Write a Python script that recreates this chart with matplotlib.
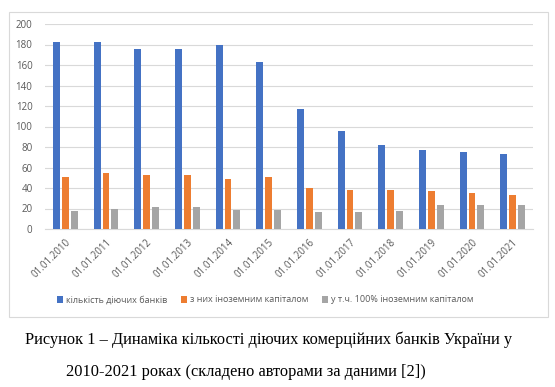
import numpy as np
import matplotlib.pyplot as plt
from matplotlib.patches import Rectangle

# Дані (оцінено з рисунка)
dates = ['01.01.2010', '01.01.2011', '01.01.2012', '01.01.2013', '01.01.2014', '01.01.2015',
         '01.01.2016', '01.01.2017', '01.01.2018', '01.01.2019', '01.01.2020', '01.01.2021']
banks_total = [182, 182, 176, 176, 180, 163, 117, 96, 82, 77, 75, 73]
banks_foreign = [51, 55, 53, 53, 49, 51, 40, 38, 38, 37, 35, 33]
banks_foreign_100 = [18, 20, 21, 21, 19, 19, 17, 17, 18, 23, 23, 23]

labels = ['кількість діючих банків', 'з них іноземним капіталом', 'у т.ч. 100% іноземним капіталом']
colors = ['#4472C4', '#ED7D31', '#A5A5A5']

plt.rcParams['font.family'] = ['Open Sans', 'DejaVu Sans']

fig = plt.figure(figsize=(5.55, 3.87), dpi=100)

# рамка діаграми
fig.patches.append(Rectangle((9 / 555, 1 - 317 / 387), 539 / 555, 305 / 387,
                             transform=fig.transFigure, fill=False,
                             edgecolor='#D9D9D9', linewidth=0.8))

ax = fig.add_axes([45 / 555, 1 - 229 / 387, 488 / 555, 205 / 387])

x = np.arange(len(dates))
w = 0.17
off = 0.22
series = [banks_total, banks_foreign, banks_foreign_100]
for i, vals in enumerate(series):
    ax.bar(x + (i - 1) * off, vals, width=w, color=colors[i], label=labels[i], zorder=3)

ax.set_xlim(-0.5, len(dates) - 0.5)
ax.set_ylim(0, 200)
ax.set_yticks(range(0, 201, 20))
ax.grid(axis='y', color='#D9D9D9', linewidth=0.8, zorder=0)
for s in ['top', 'right', 'left']:
    ax.spines[s].set_visible(False)
ax.spines['bottom'].set_color('#D9D9D9')
ax.tick_params(axis='both', length=0, colors='#595959', labelsize=7)
ax.tick_params(axis='y', pad=9)
ax.tick_params(axis='x', pad=6)
ax.set_xticks(x)
ax.set_xticklabels(dates, rotation=45, ha='right', rotation_mode='anchor')

ax.legend(loc='center', bbox_to_anchor=(265 / 555, 1 - 300 / 387),
          bbox_transform=fig.transFigure, ncol=3, frameon=False,
          fontsize=6.5, handlelength=0.7, handleheight=0.7, handletextpad=0.3,
          columnspacing=1.5, labelcolor='#595959')

fig.text(269 / 555, 1 - 340 / 387,
         'Рисунок 1 – Динаміка кількості діючих комерційних банків України у',
         ha='center', va='center', fontsize=11.8, family='Liberation Serif')
fig.text(246 / 555, 1 - 372 / 387,
         '2010-2021 роках (складено авторами за даними [2])',
         ha='center', va='center', fontsize=11.8, family='Liberation Serif')

fig.savefig('out.png', dpi=100)
